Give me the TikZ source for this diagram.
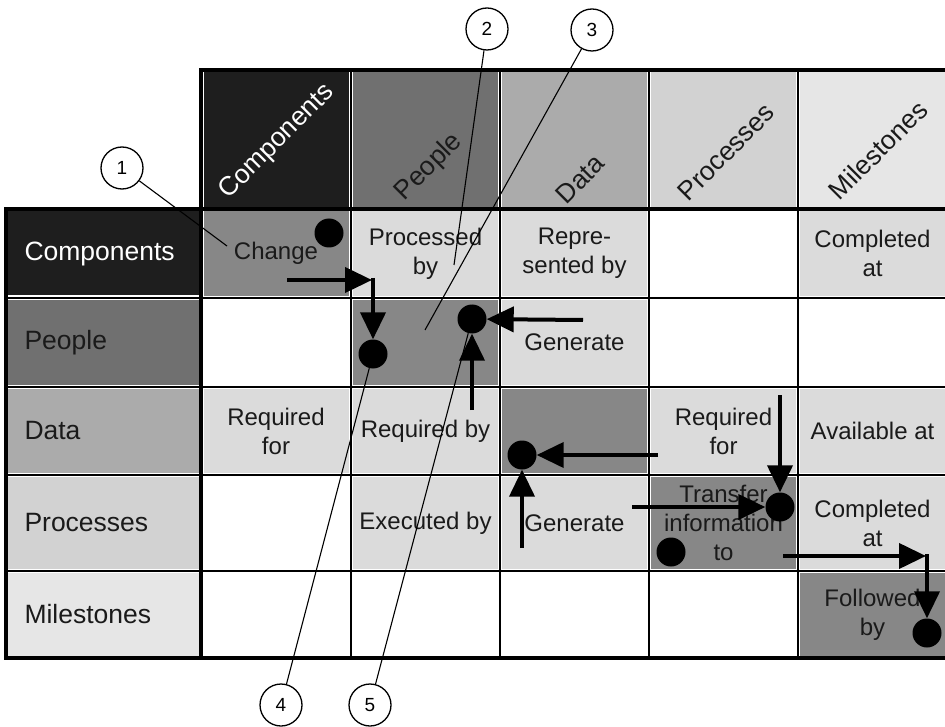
\documentclass[tikz,border=0pt]{standalone}
\usepackage{fontspec}
\setmainfont{Liberation Sans}
\usetikzlibrary{arrows.meta}

\definecolor{hdcomp}{HTML}{1E1E1E}
\definecolor{hdpeople}{HTML}{707070}
\definecolor{hddata}{HTML}{ABABAB}
\definecolor{hdproc}{HTML}{D2D2D2}
\definecolor{hdmile}{HTML}{E6E6E6}
\definecolor{celllight}{HTML}{DBDBDB}
\definecolor{celldark}{HTML}{878787}
\definecolor{ink}{HTML}{1A1A1A}

\tikzset{
  x=1pt, y=-1pt,
  cellbox/.style={rectangle, inner sep=0pt, draw=white, line width=1pt,
    minimum width=146pt, text=ink, align=center,
    font=\fontsize{24}{29}\selectfont},
  rowhead/.style={rectangle, draw=white, line width=1pt, inner ysep=0pt,
    inner xsep=17pt, text width=158pt, align=left, minimum height=85pt,
    text=ink, font=\fontsize{26.5}{30}\selectfont},
  colhead/.style={rectangle, inner sep=0pt, draw=white, line width=1pt,
    minimum width=146pt, minimum height=136pt},
  coltext/.style={rotate=45, inner sep=0pt, text=ink,
    font=\fontsize{26.5}{30}\selectfont},
  thinrule/.style={line width=2.2pt, black},
  thickrule/.style={line width=4.5pt, black},
  dot/.style={circle, fill=black, minimum size=29pt, inner sep=0pt},
  flow/.style={line width=4pt, -{Triangle[length=27pt,width=25pt]}},
  callout/.style={circle, draw=black, line width=1.3pt, fill=white,
    minimum size=42pt, inner sep=0pt, font=\fontsize{19}{19}\selectfont},
  leader/.style={line width=1.1pt, black},
}

\begin{document}
\begin{tikzpicture}
\useasboundingbox (0,0) rectangle (945,727);
\clip (0,0) rectangle (945,727);

% column headers
\node[colhead, fill=hdcomp]   (hc1) at (276,139.5)   {};
\node[colhead, fill=hdpeople] (hc2) at (425.5,139.5) {};
\node[colhead, fill=hddata]   (hc3) at (574.5,139.5) {};
\node[colhead, fill=hdproc]   (hc4) at (723.5,139.5) {};
\node[colhead, fill=hdmile]   (hc5) at (872.5,139.5) {};
\node[coltext, text=white] (tc1) at (277,142) {Components};
\node[coltext] (tc2) at (429,167) {People};
\node[coltext] (tc3) at (580,179) {Data};
\node[coltext] (tc4) at (726,152) {Processes};
\node[coltext] (tc5) at (878,150) {Milestones};

% row headers
\node[rowhead, fill=hdcomp, text=white] (hr1) at (103.5,253.5) {Components};
\node[rowhead, fill=hdpeople] (hr2) at (103.5,342.5) {People};
\node[rowhead, fill=hddata]   (hr3) at (103.5,431)   {Data};
\node[rowhead, fill=hdproc, minimum height=93pt] (hr4) at (103.5,523) {Processes};
\node[rowhead, fill=hdmile, minimum height=84pt] (hr5) at (103.5,614.5) {Milestones};

% relation cells, row Components
\node[cellbox, fill=celldark,  minimum height=86pt] (c11) at (276,253.5)   {Change};
\node[cellbox, fill=celllight, minimum height=86pt] (c12) at (425.5,253.5) {Processed\\by};
\node[cellbox, fill=celllight, minimum height=86pt] (c13) at (574.5,253.5) {Repre-\\sented by};
\node[cellbox, fill=celllight, minimum height=86pt] (c15) at (872.5,253.5) {Completed\\at};
% row People
\node[cellbox, fill=celldark,  minimum height=86pt] (c22) at (425.5,342.5) {};
\node[cellbox, fill=celllight, minimum height=86pt] (c23) at (574.5,342.5) {Generate};
% row Data
\node[cellbox, fill=celllight, minimum height=85pt] (c31) at (276,431)   {Required\\for};
\node[cellbox, fill=celllight, minimum height=85pt] (c32) at (425.5,431) {Required by};
\node[cellbox, fill=celldark,  minimum height=85pt] (c33) at (574.5,431) {};
\node[cellbox, fill=celllight, minimum height=85pt] (c34) at (723.5,431) {Required\\for};
\node[cellbox, fill=celllight, minimum height=85pt] (c35) at (872.5,431) {Available at};
% row Processes
\node[cellbox, fill=celllight, minimum height=93pt] (c42) at (425.5,523) {Executed by};
\node[cellbox, fill=celllight, minimum height=93pt] (c43) at (574.5,523) {Generate};
\node[cellbox, fill=celldark,  minimum height=93pt] (c44) at (723.5,523) {Transfer\\information\\to};
\node[cellbox, fill=celllight, minimum height=93pt] (c45) at (872.5,523) {Completed\\at};
% row Milestones
\node[cellbox, fill=celldark,  minimum height=84pt] (c55) at (872.5,614.5) {Followed\\by};

% grid rules
\foreach \gx in {351,500,649,798}
  \draw[thinrule] (\gx,70) -- (\gx,658);
\foreach \gy in {298,387,475,571}
  \draw[thinrule] (6,\gy) -- (952,\gy);
\draw[thickrule] (201,209) rectangle (952,70);
\draw[thickrule] (6,209) rectangle (952,658);
\draw[thickrule] (201,209) -- (201,658);

% markers
\node[dot] (dA) at (329,233) {};
\node[dot] (dB) at (373,354) {};
\node[dot] (dC) at (472,319) {};
\node[dot] (dD) at (522,455) {};
\node[dot] (dE) at (780,507) {};
\node[dot] (dF) at (671,552) {};
\node[dot] (dG) at (927,633) {};

% flow arrows
\coordinate (a1s) at (287,280);
\coordinate (a1e) at (372,280);
\coordinate (a2s) at (373,278);
\draw[flow] (a1s) -- (a1e);
\draw[flow] (a2s) -- (dB);
\coordinate (a3s) at (472,410);
\draw[flow] (a3s) -- (dC);
\coordinate (a4s) at (583,320);
\draw[flow] (a4s) -- (dC);
\coordinate (a5s) at (658,455);
\draw[flow] (a5s) -- (dD);
\coordinate (a6s) at (522,548);
\draw[flow] (a6s) -- (dD);
\coordinate (a7s) at (780,395);
\draw[flow] (a7s) -- (dE);
\coordinate (a8s) at (632,507);
\draw[flow] (a8s) -- (dE);
\coordinate (a9s) at (783,556);
\coordinate (a9e) at (926,556);
\coordinate (a10s) at (927,554);
\draw[flow] (a9s) -- (a9e);
\draw[flow] (a10s) -- (dG);

% numbered callouts
\node[callout] (n1) at (122,168) {1};
\node[callout] (n2) at (487,29)  {2};
\node[callout] (n3) at (592,30)  {3};
\node[callout] (n4) at (281,705) {4};
\node[callout] (n5) at (370,705) {5};
\coordinate (p1) at (227,246);
\coordinate (p2) at (454,265);
\coordinate (p3) at (425,330);
\draw[leader] (n1) -- (p1);
\draw[leader] (n2) -- (p2);
\draw[leader] (n3) -- (p3);
\draw[leader] (n4) -- (dB);
\draw[leader] (n5) -- (dC);
\end{tikzpicture}
\end{document}
